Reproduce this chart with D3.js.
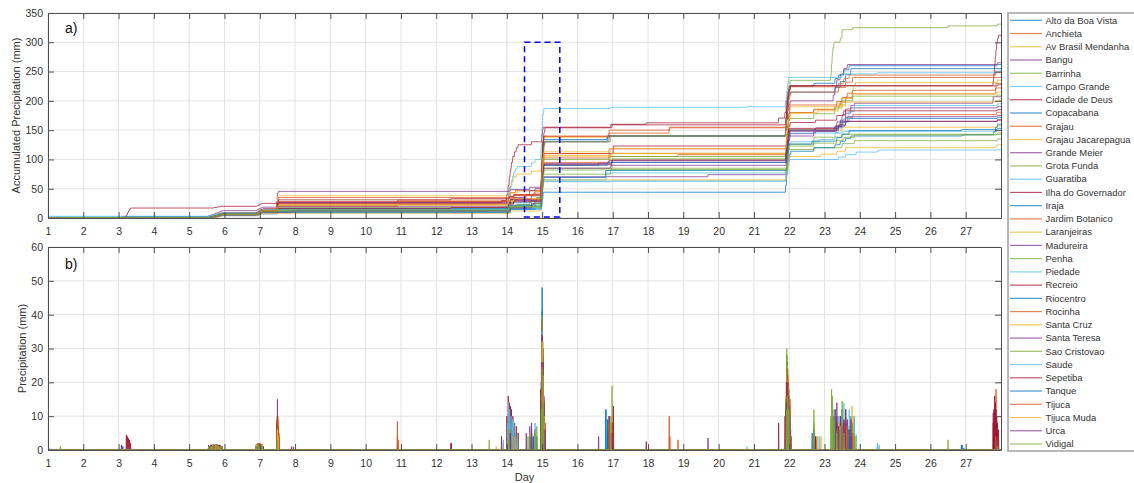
<!DOCTYPE html>
<html>
<head>
<meta charset="utf-8">
<script src="https://cdn.jsdelivr.net/npm/d3@7/dist/d3.min.js"></script>
<style>
  html, body { margin: 0; padding: 0; background: #fff; }
  svg { display: block; font-family: "Liberation Sans", Arial, Helvetica, sans-serif; }
</style>
</head>
<body>
<svg id="chart" width="1134" height="483"></svg>
<script>
// Rain-gauge stations (legend order)
const stationNames = [
  "Alto da Boa Vista", "Anchieta", "Av Brasil Mendanha", "Bangu", "Barrinha",
  "Campo Grande", "Cidade de Deus", "Copacabana", "Grajau", "Grajau Jacarepagua",
  "Grande Meier", "Grota Funda", "Guaratiba", "Ilha do Governador", "Iraja",
  "Jardim Botanico", "Laranjeiras", "Madureira", "Penha", "Piedade",
  "Recreio", "Riocentro", "Rocinha", "Santa Cruz", "Santa Teresa",
  "Sao Cristovao", "Saude", "Sepetiba", "Tanque", "Tijuca",
  "Tijuca Muda", "Urca", "Vidigal"
];

// 15-minute rainfall records per station: [day, mm]
const altoDaBoaVista = [[5.55,1],[5.62,1.5],[5.7,1.5],[5.78,1.5],[5.85,1.5],[5.92,1],[6.9,1],[6.95,1.5],[7.0,1.5],[7.05,1],[7.1,1],[7.5,2],[14.05,6],[14.1,4],[14.7,4],[14.85,4],[14.97,12],[15.0,48],[15.02,28],[15.04,12],[16.85,6],[21.9,15],[21.93,26],[21.96,22],[21.99,14],[22.03,8],[22.7,5],[23.3,8],[23.4,6],[23.55,9],[23.7,7],[27.9,2]];
const anchieta = [[5.6,1],[5.68,1.5],[5.76,1.5],[5.84,1],[5.9,1],[6.92,1.5],[6.97,1.5],[7.02,1.5],[7.07,1.5],[7.5,6],[7.53,4],[10.9,8.5],[14.05,5],[14.2,3],[14.75,4],[14.98,14],[15.0,26],[15.02,14],[15.05,6],[16.9,8],[21.92,12],[21.95,16],[21.99,12],[23.3,6],[23.45,8],[23.6,7],[23.8,5],[27.88,4]];
const avBrasilMendanha = [[5.55,1],[5.62,1.5],[5.7,1.5],[5.78,1.5],[5.85,1.5],[5.92,1],[6.9,1],[6.95,1.5],[7.0,1.5],[7.05,1],[7.1,1],[7.5,4],[13.9,2],[14.02,8],[14.06,14],[14.1,12],[14.15,9],[14.2,7],[14.28,5],[14.7,5],[14.98,14],[15.0,27],[15.02,12],[15.05,5],[16.95,2],[21.95,6],[22.0,4],[23.5,5],[27.9,3]];
const bangu = [[3.08,1.5],[3.12,1],[5.55,1.5],[5.62,1.5],[5.7,1.5],[5.76,1.5],[5.82,1.5],[5.88,1.5],[5.94,1],[6.92,1.5],[6.97,1.5],[7.02,1.5],[7.07,1.5],[7.48,9],[7.5,15],[7.53,3],[14.1,3],[14.65,4],[14.98,6],[15.0,8],[15.03,4],[19.7,3.5],[21.92,14],[21.95,26],[21.98,18],[22.02,12],[22.7,6],[22.75,4],[23.35,10],[23.5,12],[23.6,10],[23.75,6],[23.85,4],[27.78,11]];
const barrinha = [[1.35,1],[5.55,1],[5.62,1.5],[5.7,1.5],[5.78,1.5],[5.85,1.5],[5.92,1],[6.93,1],[6.98,1.5],[7.03,1.5],[14.05,5],[14.6,4],[14.8,6],[14.98,10],[15.0,24],[15.03,14],[15.06,6],[16.98,19],[21.95,10],[21.98,15],[22.7,12],[23.5,5],[27.9,2]];
const campoGrande = [[1.0,2.5],[1.05,0.5],[5.6,1],[5.7,1.5],[5.8,1.5],[5.9,1],[6.92,1],[6.97,1.5],[7.02,1.5],[7.07,1],[14.1,3],[14.98,10],[15.0,22],[15.03,14],[16.95,1],[21.93,12],[21.97,15],[22.0,10],[23.4,4],[23.6,4],[23.9,4.5],[24.5,2],[24.55,1.5],[27.9,1]];
const cidadeDeDeus = [[5.55,1],[5.62,1.5],[5.7,1.5],[5.78,1.5],[5.85,1.5],[5.92,1],[6.9,1.5],[6.95,2],[7.0,2],[7.05,1.5],[7.1,1],[7.5,9],[7.55,1],[13.85,4],[14.0,10],[14.04,16],[14.07,14],[14.1,13],[14.13,12],[14.17,10],[14.22,8],[14.27,7],[14.32,5],[14.7,5],[14.99,10],[15.01,10],[15.03,5],[16.95,5],[17.95,2.5],[21.7,8],[21.88,10],[21.92,20],[21.96,15],[22.0,10],[27.9,2]];
const copacabana = [[5.6,1],[5.68,1.5],[5.76,1.5],[5.84,1],[5.9,1],[6.92,1.5],[6.97,1.5],[7.02,1.5],[7.07,1.5],[7.5,3],[14.08,6],[14.75,4],[14.97,15],[15.0,41],[15.02,30],[15.05,14],[15.08,6],[16.85,9],[21.9,14],[21.93,28],[21.96,16],[21.99,11],[22.03,6],[23.3,8],[23.45,10],[23.6,12],[23.75,10]];
const grajau = [[5.6,1],[5.68,1.5],[5.76,1.5],[5.84,1],[5.9,1],[6.92,1.5],[6.97,1.5],[7.02,1.5],[7.07,1.5],[7.49,8],[7.51,10],[7.54,5],[14.1,8],[14.25,4],[14.97,16],[15.0,35],[15.02,26],[15.05,15],[16.9,6],[18.6,10],[21.92,14],[21.95,20],[21.98,14],[22.02,8],[22.06,4],[23.4,8],[23.6,9],[23.8,8]];
const grajauJacarepagua = [[5.6,1],[5.68,1.5],[5.76,1.5],[5.84,1],[5.9,1],[6.9,1.5],[6.95,2],[7.0,2],[7.05,1.5],[7.49,10],[7.51,10],[7.54,5],[14.1,5],[14.3,3],[14.98,15],[15.0,25],[15.03,14],[15.06,6],[16.95,4],[21.92,16],[21.95,22],[21.98,18],[22.02,14],[22.7,6],[23.4,8],[23.6,10],[23.78,13],[23.82,10],[23.88,4],[27.9,4]];
const grandeMeier = [[5.55,1],[5.62,1.5],[5.7,1.5],[5.78,1.5],[5.85,1.5],[5.92,1],[6.92,1],[6.97,1.5],[7.02,1.5],[7.07,1],[7.5,8],[7.53,6],[14.1,5],[14.2,3],[14.55,5],[14.65,7],[14.8,3],[14.98,10],[15.0,20],[15.03,10],[16.6,4],[16.9,4],[21.93,14],[21.96,20],[21.99,16],[23.35,6],[23.5,10],[23.65,9],[27.9,2]];
const grotaFunda = [[5.6,1],[5.68,1.5],[5.76,1.5],[5.84,1],[5.9,1],[6.92,1.5],[6.97,1.5],[7.02,1.5],[7.07,1.5],[13.5,3],[14.05,5],[14.3,3],[14.65,5],[14.85,7],[14.98,12],[15.0,24],[15.03,14],[21.94,14],[21.98,18],[22.7,3],[23.5,7],[23.85,5],[27.9,3]];
const guaratiba = [[1.0,2],[5.6,1],[5.68,1.5],[5.76,1.5],[5.84,1],[5.9,1],[6.92,1.5],[6.97,1.5],[7.02,1.5],[7.07,1.5],[14.1,4],[14.8,8],[14.98,8],[15.0,18],[15.03,11],[21.9,14],[21.93,24],[21.96,22],[21.99,14],[22.03,8],[23.5,3],[27.9,2]];
const ilhaDoGovernador = [[5.6,1],[5.7,1.5],[5.8,1.5],[5.9,1],[6.92,1],[6.97,1.5],[7.02,1.5],[7.07,1],[7.49,8],[7.51,9],[7.54,4],[12.42,2],[14.08,4],[14.2,3],[14.98,16],[15.0,28],[15.02,18],[15.05,8],[17.02,13],[21.93,10],[21.96,12],[21.99,8],[23.4,6],[23.6,6],[27.9,2]];
const iraja = [[5.65,1],[5.75,1],[5.85,1],[5.92,1],[6.95,1],[7.0,1],[7.05,1],[7.5,2],[14.1,6],[14.8,4],[15.0,14],[15.03,11],[21.9,12],[21.93,22],[21.96,18],[22.0,12],[22.04,6],[22.7,6],[23.3,5],[23.45,6],[23.6,5],[23.75,4],[26.9,1.5],[26.95,0.5],[27.8,6],[27.85,7],[27.9,5]];
const jardimBotanico = [[5.6,1],[5.7,1.5],[5.8,1.5],[5.9,1],[6.9,1.5],[6.95,2],[7.0,2],[7.05,1.5],[7.5,5],[7.53,3],[10.92,3],[14.05,6],[14.2,4],[14.98,14],[15.0,26],[15.02,15],[15.05,7],[16.9,10],[18.85,3],[21.92,15],[21.95,24],[21.98,20],[22.02,13],[22.7,5],[23.3,6],[23.45,7],[23.6,8],[23.8,6],[27.86,18]];
const laranjeiras = [[5.6,1],[5.68,1.5],[5.76,1.5],[5.84,1],[5.9,1],[6.92,1.5],[6.97,1.5],[7.02,1.5],[7.07,1.5],[7.5,6],[7.53,4],[14.1,5],[14.25,4],[14.98,16],[15.0,30],[15.02,20],[15.05,9],[16.95,4],[21.92,18],[21.95,25],[21.98,22],[22.02,15],[23.35,5],[23.5,9],[23.8,8],[27.9,3]];
const madureira = [[5.6,1],[5.68,1.5],[5.76,1.5],[5.84,1],[5.9,1],[6.95,1],[7.0,1.5],[7.05,1.5],[7.5,10],[7.53,7],[14.1,5],[14.7,6],[14.98,12],[15.0,25],[15.03,13],[15.06,5],[16.95,2],[21.93,14],[21.96,18],[21.99,13],[22.7,5],[22.75,3],[23.3,9],[23.45,10],[23.6,12],[23.75,9],[27.9,2]];
const penha = [[5.55,1],[5.62,1],[5.7,1.5],[5.78,1.5],[5.86,1],[5.92,1],[6.92,1],[6.97,1.5],[7.02,1.5],[7.07,1],[14.1,6],[14.98,16],[15.0,34],[15.02,22],[15.05,10],[16.95,5],[21.9,8],[21.93,30],[21.96,17],[21.99,10],[22.7,8],[23.3,10],[23.5,12],[23.8,8],[27.9,2]];
const piedade = [[5.6,1],[5.7,1.5],[5.8,1.5],[5.9,1],[6.92,1],[6.97,1.5],[7.02,1.5],[7.07,1],[14.1,5],[14.8,5],[14.98,10],[15.0,22],[15.03,13],[16.82,12],[21.93,14],[21.96,20],[21.99,13],[22.03,6],[22.85,4],[23.3,12],[23.4,10],[23.55,14],[23.7,12],[23.85,10],[27.9,3]];
const recreio = [[3.22,4.5],[3.25,4],[3.28,3.5],[3.31,3],[3.34,2],[5.7,1],[5.8,1],[5.9,1],[6.92,1],[6.97,1.5],[7.02,1.5],[7.07,1],[14.1,6],[14.98,14],[15.0,26],[15.02,14],[15.05,6],[16.98,8],[21.9,10],[21.93,20],[21.96,18],[21.99,10],[22.03,6],[22.75,4],[23.35,8],[23.55,8],[27.9,2]];
const riocentro = [[5.6,1],[5.7,1.5],[5.8,1.5],[5.9,1],[6.92,1],[6.97,1.5],[7.02,1.5],[7.07,1],[7.5,7],[14.1,5],[14.98,14],[15.0,30],[15.02,16],[15.05,8],[16.85,5],[21.92,14],[21.95,20],[21.98,13],[22.02,8],[23.35,6],[23.5,8],[23.7,6],[27.9,2]];
const rocinha = [[5.6,1],[5.68,1.5],[5.76,1.5],[5.84,1],[5.9,1],[6.92,1.5],[6.97,1.5],[7.02,1.5],[7.07,1.5],[7.5,7],[7.53,5],[10.9,4],[14.05,8],[14.2,4],[14.8,6],[14.97,18],[15.0,38],[15.02,26],[15.05,12],[16.9,10],[18.62,4],[21.92,16],[21.95,24],[21.98,18],[22.02,12],[23.4,6],[23.55,8],[23.7,6],[27.85,4]];
const santaCruz = [[5.65,1],[5.75,1],[5.85,1],[5.92,1],[6.95,1.5],[7.0,1.5],[7.05,1],[14.1,4],[14.98,12],[15.0,24],[15.03,12],[15.06,5],[21.93,12],[21.96,16],[21.99,12],[22.9,4],[23.35,5],[23.6,6],[27.85,3],[27.9,2]];
const santaTeresa = [[5.6,1],[5.68,1.5],[5.76,1.5],[5.84,1],[5.9,1],[6.92,1.5],[6.97,1.5],[7.02,1.5],[7.07,1.5],[7.5,5],[7.53,3],[14.05,6],[14.2,4],[14.97,16],[15.0,38],[15.02,30],[15.05,16],[16.9,10],[21.9,10],[21.93,18],[21.96,16],[21.99,10],[22.03,6],[23.25,10],[23.3,12],[23.35,14],[23.45,10],[23.55,9],[23.65,7],[27.9,3]];
const saoCristovao = [[5.6,1],[5.68,1.5],[5.76,1.5],[5.84,1],[5.9,1],[6.92,1.5],[6.97,1.5],[7.02,1.5],[7.07,1.5],[14.05,5],[14.2,3],[14.97,18],[15.0,40],[15.02,32],[15.05,14],[15.08,6],[16.95,10],[21.9,15],[21.93,28],[21.96,24],[21.99,18],[22.03,10],[23.18,10],[23.2,18],[23.22,16],[23.24,12],[23.27,9],[23.45,7],[23.5,14.5],[23.8,3.5],[26.5,3],[27.9,3]];
const saude = [[5.6,1],[5.7,1.5],[5.8,1.5],[5.9,1],[6.92,1],[6.97,1.5],[7.02,1.5],[7.07,1],[7.5,5],[13.9,3],[14.02,8],[14.05,14],[14.08,12],[14.12,10],[14.16,9],[14.2,8],[14.25,5],[14.3,4],[14.7,6],[14.8,6],[14.97,20],[15.0,35],[15.02,22],[15.05,10],[16.95,2],[20.8,1],[21.9,10],[21.93,16],[21.96,14],[21.99,10],[23.5,6],[24.5,2],[27.9,3]];
const sepetiba = [[5.6,1],[5.68,1.5],[5.76,1.5],[5.84,1],[5.9,1],[6.92,1.5],[6.97,1.5],[7.02,1.5],[7.07,1.5],[7.5,4],[12.42,2],[14.05,6],[14.2,4],[14.96,18],[14.98,26],[15.0,34],[15.02,26],[15.05,14],[15.08,8],[16.98,5],[21.9,12],[21.93,20],[21.96,16],[21.99,12],[22.03,7],[27.78,8],[27.8,12],[27.82,16],[27.84,14],[27.86,12],[27.88,10],[27.9,8],[27.93,6]];
const tanque = [[3.1,1.2],[5.6,1],[5.7,1.5],[5.8,1.5],[5.9,1],[6.93,1],[6.98,1.5],[7.03,1.5],[14.1,5],[14.98,12],[15.0,26],[15.03,12],[15.06,4],[16.8,12],[21.93,14],[21.96,18],[21.99,13],[22.65,5],[23.35,6],[23.5,6],[23.7,6],[26.88,1.5],[26.92,0.5],[27.9,2]];
const tijuca = [[5.6,1],[5.68,1.5],[5.76,1.5],[5.84,1],[5.9,1],[6.92,1.5],[6.97,1.5],[7.02,1.5],[7.07,1.5],[7.5,9],[7.53,7],[14.05,6],[14.2,4],[14.98,16],[15.0,30],[15.02,18],[15.05,8],[16.9,8],[21.92,16],[21.95,24],[21.98,20],[22.02,15],[23.35,6],[23.5,7],[23.65,7],[23.8,5],[27.85,4]];
const tijucaMuda = [[5.6,1],[5.68,1.5],[5.76,1.5],[5.84,1],[5.9,1],[6.92,1.5],[6.97,1.5],[7.02,1.5],[7.07,1.5],[7.5,6],[7.53,4],[13.7,1],[14.05,6],[14.2,4],[14.98,16],[15.0,32],[15.02,22],[15.05,10],[16.95,6],[21.92,14],[21.95,20],[21.98,16],[22.02,10],[22.8,4],[23.4,8],[23.6,7],[27.9,3]];
const urca = [[5.6,1],[5.7,1.5],[5.8,1.5],[5.9,1],[6.92,1],[6.97,1.5],[7.02,1.5],[7.07,1],[7.9,1],[7.95,1],[14.1,5],[14.7,8],[14.98,14],[15.0,26],[15.02,14],[15.05,6],[16.95,5],[21.92,14],[21.95,20],[21.98,16],[22.02,10],[23.4,7],[23.6,8],[27.9,3]];
const vidigal = [[1.35,0.8],[5.6,1],[5.7,1.5],[5.8,1.5],[5.9,1],[6.92,1],[6.97,1.5],[7.02,1.5],[7.07,1],[7.5,3],[14.05,6],[14.8,5],[14.98,12],[15.0,24],[15.03,14],[16.95,8],[21.93,12],[21.96,16],[21.99,12],[22.7,5],[23.35,5],[23.55,5],[23.85,4],[27.9,1]];

const stationRecords = [
  altoDaBoaVista, anchieta, avBrasilMendanha, bangu, barrinha,
  campoGrande, cidadeDeDeus, copacabana, grajau, grajauJacarepagua,
  grandeMeier, grotaFunda, guaratiba, ilhaDoGovernador, iraja,
  jardimBotanico, laranjeiras, madureira, penha, piedade,
  recreio, riocentro, rocinha, santaCruz, santaTeresa,
  saoCristovao, saude, sepetiba, tanque, tijuca,
  tijucaMuda, urca, vidigal
];

// Axis ticks
const dayTicks = [1,2,3,4,5,6,7,8,9,10,11,12,13,14,15,16,17,18,19,20,21,22,23,24,25,26,27];
const accTicks = [0,50,100,150,200,250,300,350];
const precipTicks = [0,10,20,30,40,50,60];

// Highlighted window on panel a: days and accumulated mm
const highlightDays = [14.5, 15.5];
const highlightMm = [0, 300];

const palette = ["#0072BD","#D95319","#EDB120","#7E2F8E","#77AC30","#4DBEEE","#A2142F"];
const step = 1 / 96; // one 15-minute interval in days

const svg = d3.select("#chart");
const left = 48, right = 1001;
const panelA = { top: 13, bottom: 218 };
const panelB = { top: 247, bottom: 450 };

const x = d3.scaleLinear().domain([1, 28]).range([left, right]);
const yA = d3.scaleLinear().domain([0, 350]).range([panelA.bottom, panelA.top]);
const yB = d3.scaleLinear().domain([0, 60]).range([panelB.bottom, panelB.top]);

const axisColor = "#505050";
const textColor = "#333";
const gridColor = "#e3e3e3";

function drawFrame(y, ticks, panel, clipId) {
  const g = svg.append("g");
  g.append("g").selectAll("line").data(dayTicks).join("line")
    .attr("x1", d => x(d)).attr("x2", d => x(d))
    .attr("y1", panel.top).attr("y2", panel.bottom)
    .attr("stroke", gridColor).attr("stroke-width", 1);
  g.append("g").selectAll("line").data(ticks).join("line")
    .attr("x1", left).attr("x2", right)
    .attr("y1", d => y(d)).attr("y2", d => y(d))
    .attr("stroke", gridColor).attr("stroke-width", 1);

  svg.append("clipPath").attr("id", clipId)
    .append("rect").attr("x", left).attr("y", panel.top)
    .attr("width", right - left).attr("height", panel.bottom - panel.top);
  return g;
}

function drawAxes(y, ticks, panel) {
  const tl = 6;
  const bottomAxis = d3.axisBottom(x).tickValues(dayTicks).tickFormat(d3.format("d"))
    .tickSizeInner(-tl).tickSizeOuter(0).tickPadding(10);
  const topAxis = d3.axisTop(x).tickValues(dayTicks).tickFormat("")
    .tickSizeInner(-tl).tickSizeOuter(0);
  const leftAxis = d3.axisLeft(y).tickValues(ticks).tickFormat(d3.format("d"))
    .tickSizeInner(-tl).tickSizeOuter(0).tickPadding(5);
  const rightAxis = d3.axisRight(y).tickValues(ticks).tickFormat("")
    .tickSizeInner(-tl).tickSizeOuter(0);

  const style = sel => {
    sel.selectAll("path.domain").attr("stroke", axisColor).attr("stroke-width", 1);
    sel.selectAll(".tick line").attr("stroke", axisColor).attr("stroke-width", 1);
    sel.selectAll(".tick text").attr("fill", textColor)
      .style("font-size", "10.5px").style("font-family", "'Liberation Sans', Arial, sans-serif");
  };
  svg.append("g").attr("transform", `translate(0,${panel.bottom})`).call(bottomAxis).call(style);
  svg.append("g").attr("transform", `translate(0,${panel.top})`).call(topAxis).call(style);
  svg.append("g").attr("transform", `translate(${left},0)`).call(leftAxis).call(style);
  svg.append("g").attr("transform", `translate(${right},0)`).call(rightAxis).call(style);
}

// ---- Panel a: accumulated precipitation ----
drawFrame(yA, accTicks, panelA, "clipA");
const accLine = d3.line().x(d => x(d[0])).y(d => yA(d[1]));
const gA = svg.append("g").attr("clip-path", "url(#clipA)");
stationRecords.forEach((rec, i) => {
  const pts = [[1, 0]];
  let total = 0;
  rec.slice().sort((a, b) => a[0] - b[0]).forEach(([t, mm]) => {
    pts.push([t - step, total]);
    total += mm;
    pts.push([t, total]);
  });
  pts.push([28, total]);
  gA.append("path").datum(pts)
    .attr("d", accLine)
    .attr("fill", "none")
    .attr("stroke", palette[i % palette.length])
    .attr("stroke-opacity", 0.72)
    .attr("stroke-width", 1);
});
gA.append("rect")
  .attr("x", x(highlightDays[0])).attr("y", yA(highlightMm[1]))
  .attr("width", x(highlightDays[1]) - x(highlightDays[0]))
  .attr("height", yA(highlightMm[0]) - yA(highlightMm[1]) - 1)
  .attr("fill", "none").attr("stroke", "#0000FF")
  .attr("stroke-width", 1.5).attr("stroke-dasharray", "6,4");
drawAxes(yA, accTicks, panelA);

// ---- Panel b: 15-minute precipitation ----
drawFrame(yB, precipTicks, panelB, "clipB");
const rainLine = d3.line().x(d => x(d[0])).y(d => yB(d[1]));
const gB = svg.append("g").attr("clip-path", "url(#clipB)");
stationRecords.forEach((rec, i) => {
  const pts = [[1, 0]];
  rec.slice().sort((a, b) => a[0] - b[0]).forEach(([t, mm]) => {
    pts.push([t - step * 0.8, 0], [t, mm], [t + step * 0.8, 0]);
  });
  pts.push([28, 0]);
  gB.append("path").datum(pts)
    .attr("d", rainLine)
    .attr("fill", "none")
    .attr("stroke", palette[i % palette.length])
    .attr("stroke-opacity", 0.8)
    .attr("stroke-width", 1);
});
drawAxes(yB, precipTicks, panelB);

// Panel tags and axis titles
svg.append("text").attr("x", 65).attr("y", 33).text("a)")
  .style("font-size", "14px").attr("fill", "#111");
svg.append("text").attr("x", 65).attr("y", 269).text("b)")
  .style("font-size", "14px").attr("fill", "#111");

svg.append("text")
  .attr("transform", `translate(20,${(panelA.top + panelA.bottom) / 2}) rotate(-90)`)
  .attr("text-anchor", "middle").attr("fill", textColor)
  .style("font-size", "11px").text("Accumulated Precipitation (mm)");
svg.append("text")
  .attr("transform", `translate(26,${(panelB.top + panelB.bottom) / 2}) rotate(-90)`)
  .attr("text-anchor", "middle").attr("fill", textColor)
  .style("font-size", "11px").text("Precipitation (mm)");
svg.append("text")
  .attr("x", (left + right) / 2).attr("y", 481)
  .attr("text-anchor", "middle").attr("fill", textColor)
  .style("font-size", "11px").text("Day");

// ---- Legend ----
const legendTop = 13, legendBottom = 451, legendLeft = 1008;
const legend = svg.append("g");
legend.append("rect")
  .attr("x", legendLeft).attr("y", legendTop)
  .attr("width", 1134 - legendLeft + 2).attr("height", legendBottom - legendTop)
  .attr("fill", "#fff").attr("stroke", "#a0a0a0").attr("stroke-width", 1.5);
const rowY = d3.scalePoint().domain(stationNames).range([20.3, 444]);
const rows = legend.selectAll("g.row").data(stationNames).join("g")
  .attr("class", "row")
  .attr("transform", d => `translate(0,${rowY(d)})`);
rows.append("line")
  .attr("x1", 1010).attr("x2", 1042).attr("y1", 0).attr("y2", 0)
  .attr("stroke", (d, i) => palette[i % palette.length])
  .attr("stroke-opacity", 0.72).attr("stroke-width", 1.2);
rows.append("text")
  .attr("x", 1045.5).attr("y", 0).attr("dy", "0.35em")
  .attr("fill", textColor)
  .style("font-size", "9.4px")
  .text(d => d);
</script>
</body>
</html>
